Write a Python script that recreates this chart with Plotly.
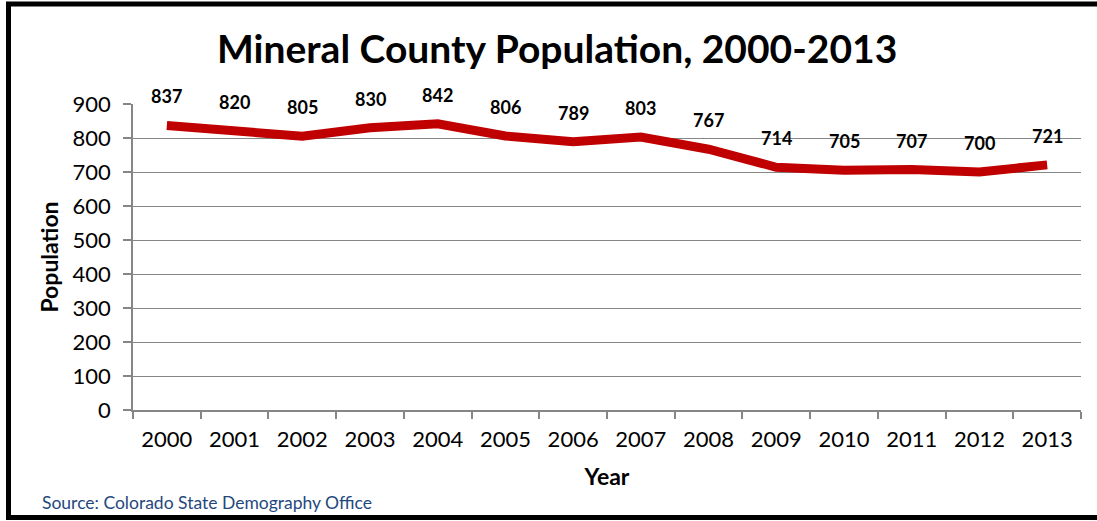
import plotly.graph_objects as go

years = ["2000", "2001", "2002", "2003", "2004", "2005", "2006", "2007",
         "2008", "2009", "2010", "2011", "2012", "2013"]
population = [837, 820, 805, 830, 842, 806, 789, 803, 767, 714, 705, 707, 700, 721]
y_ticks = [0, 100, 200, 300, 400, 500, 600, 700, 800, 900]

W, H = 1097, 521
L, R, T, B = 133, 16, 104, 111
pw = W - L - R
ph = H - T - B

def px_x(px):
    return (px - L) / pw

def px_y(py):
    return (H - B - py) / ph

FONT = "Lato, Carlito, Calibri, sans-serif"

fig = go.Figure()
fig.add_trace(go.Scatter(
    x=list(range(len(years))), y=population, mode="lines",
    line=dict(color="#C00000", width=9),
    hoverinfo="y", showlegend=False,
))

annotations = []
for i, val in enumerate(population):
    annotations.append(dict(
        x=i, y=val, xref="x", yref="y", text=f"<b>{val}</b>",
        showarrow=False, yshift=29,
        font=dict(family=FONT, size=18, color="black"),
    ))
annotations.append(dict(
    x=px_x(557), y=px_y(48), xref="paper", yref="paper",
    text="<b>Mineral County Population, 2000-2013</b>", showarrow=False,
    font=dict(family=FONT, size=39, color="black"),
    xanchor="center", yanchor="middle",
))
annotations.append(dict(
    x=px_x(40), y=px_y(502), xref="paper", yref="paper",
    text="Source: Colorado State Demography Office", showarrow=False,
    font=dict(family=FONT, size=17.5, color="#1F497D"),
    xanchor="left", yanchor="middle",
))

fig.update_layout(
    width=W, height=H,
    margin=dict(l=L, r=R, t=T, b=B),
    paper_bgcolor="white", plot_bgcolor="white",
    font=dict(family=FONT, color="black"),
    annotations=annotations,
    shapes=[dict(
        type="rect", xref="paper", yref="paper",
        x0=px_x(8.5), x1=px_x(1110), y0=px_y(517.5), y1=px_y(4),
        line=dict(color="black", width=5), layer="above",
    )],
    xaxis=dict(
        tickmode="array", tickvals=list(range(len(years))), ticktext=years,
        ticks="", showline=True, linecolor="#868686", linewidth=1.5,
        showgrid=False, zeroline=False, ticklabelstandoff=9,
        tickfont=dict(size=22, family=FONT),
        title=dict(text="<b>Year</b>", font=dict(size=23, family=FONT), standoff=18),
        range=[-0.5, len(years) - 0.5],
        minor=dict(tickmode="linear", tick0=-0.5, dtick=1, ticks="outside",
                   ticklen=7, tickcolor="#868686", tickwidth=1.5, showgrid=False),
    ),
    yaxis=dict(
        range=[0, 900], tickvals=y_ticks, ticks="outside", ticklen=8,
        tickcolor="#868686", tickwidth=1.5,
        showline=True, linecolor="#868686", linewidth=1.5,
        showgrid=True, gridcolor="#868686", gridwidth=1.2,
        zeroline=False, ticklabelstandoff=8, tickfont=dict(size=22, family=FONT),
        title=dict(text="<b>Population</b>", font=dict(size=23, family=FONT), standoff=8),
    ),
)

fig.write_html("out.html", config={"displayModeBar": False},
               post_script="document.body.style.margin='0';")
